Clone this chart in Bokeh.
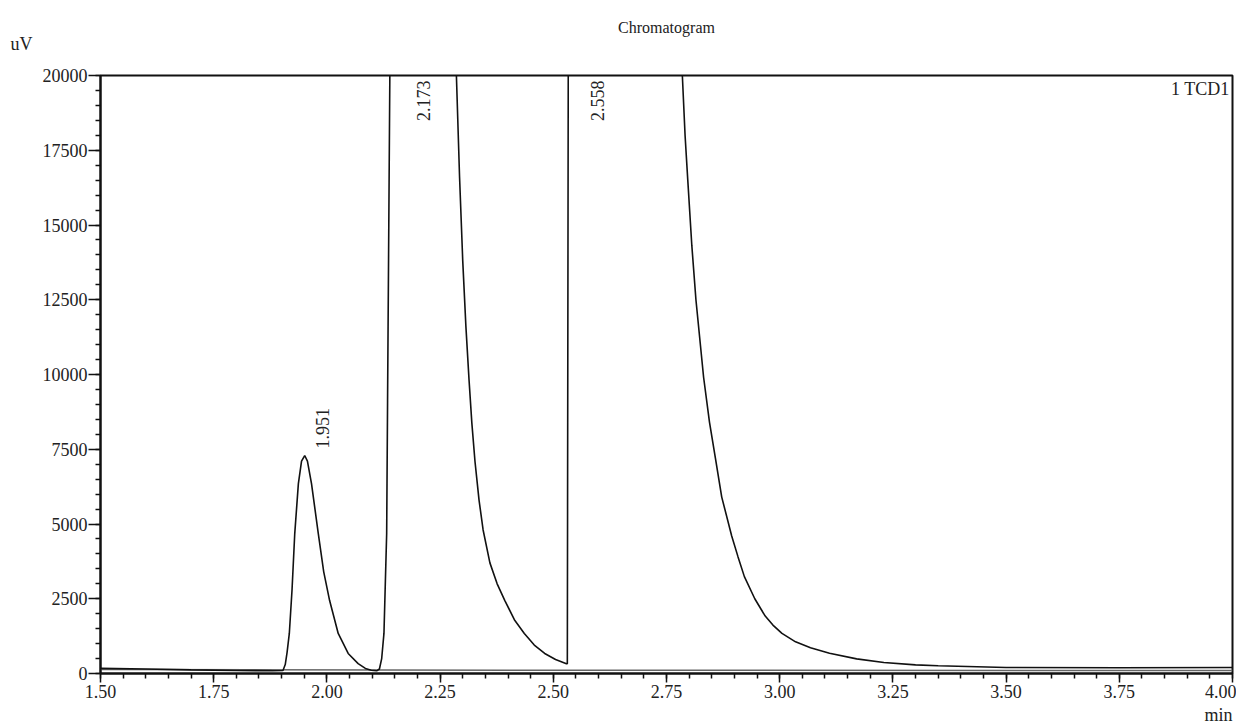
import math
from bokeh.plotting import figure
from bokeh.models import Range1d, FixedTicker, Label, Title, CustomJSTickFormatter
from bokeh.core.properties import value
from bokeh.embed import file_html
from bokeh.resources import INLINE

# ---- data ----
time_min = [1.50, 1.60, 1.70, 1.80, 1.880, 1.903, 1.908, 1.912, 1.917, 1.923, 1.929, 1.937,
            1.944, 1.951, 1.957, 1.966, 1.981, 1.993, 2.006, 2.025, 2.047, 2.069, 2.085,
            2.098, 2.110, 2.116, 2.121, 2.126, 2.132, 2.134, 2.139, 2.173,
            2.286, 2.293, 2.300, 2.307, 2.314, 2.320, 2.327, 2.336, 2.345, 2.360, 2.376,
            2.393, 2.414, 2.436, 2.458, 2.481, 2.505, 2.529, 2.531, 2.533, 2.558,
            2.785, 2.791, 2.797, 2.806, 2.815, 2.832, 2.845, 2.858, 2.872, 2.894, 2.908,
            2.922, 2.945, 2.968, 2.985, 3.005, 3.035, 3.068, 3.110, 3.170, 3.230, 3.300,
            3.350, 3.500, 3.750, 4.000]
signal_uv = [170, 150, 120, 100, 90, 100, 300, 700, 1340, 2800, 4680, 6350,
             7100, 7290, 7100, 6350, 4680, 3400, 2440, 1340, 670, 330, 170,
             110, 90, 150, 500, 1340, 4680, 9130, 20000, 48000,
             20000, 16600, 13800, 11600, 9800, 8400, 7100, 5800, 4800, 3700, 3000,
             2440, 1800, 1340, 950, 670, 470, 330, 330, 20000, 62000,
             20000, 18000, 16500, 14300, 12500, 9900, 8400, 7200, 5900, 4600, 3900,
             3240, 2500, 1920, 1620, 1340, 1060, 860, 680, 490, 370, 290,
             260, 200, 190, 200]

baseline_time = [1.50, 2.53, 4.00]
baseline_uv = [130, 110, 100]

peak_times = [1.951, 2.173, 2.558]
peak_heights = [7290, 48000, 62000]
peak_labels = ["1.951", "2.173", "2.558"]

x_ticks = [1.50, 1.75, 2.00, 2.25, 2.50, 2.75, 3.00, 3.25, 3.50, 3.75, 4.00]
y_ticks = [0, 2500, 5000, 7500, 10000, 12500, 15000, 17500, 20000]
x_minor = [round(1.50 + 0.05 * i, 2) for i in range(51)]
y_minor = [500 * i for i in range(41)]

X_MIN, X_MAX = 1.50, 4.00
Y_MIN, Y_MAX = 0, 20000

FONT = "Liberation Serif"
TXT = "#222222"

p = figure(width=1236, height=727, output_backend="svg", toolbar_location=None,
           x_range=Range1d(X_MIN, X_MAX), y_range=Range1d(Y_MIN, Y_MAX),
           min_border_left=100, min_border_right=4, min_border_top=75, min_border_bottom=54,
           title=None)
p.background_fill_color = "white"
p.border_fill_color = "white"
p.grid.visible = False
p.outline_line_color = "#111111"
p.outline_line_width = 2

for ax in (p.xaxis[0], p.yaxis[0]):
    ax.axis_line_color = "#111111"
    ax.axis_line_width = 2
    ax.major_tick_line_color = "#111111"
    ax.minor_tick_line_color = "#111111"
    ax.major_tick_line_width = 1.5
    ax.minor_tick_line_width = 1.5
    ax.major_tick_in = 0
    ax.minor_tick_in = 0
    ax.major_label_text_font = FONT
    ax.major_label_text_font_size = "18px"
    ax.major_label_text_color = TXT

p.xaxis.ticker = FixedTicker(ticks=x_ticks, minor_ticks=x_minor)
p.yaxis.ticker = FixedTicker(ticks=y_ticks, minor_ticks=y_minor)
p.xaxis.major_tick_out = 9
p.xaxis.minor_tick_out = 5
p.yaxis.major_tick_out = 12
p.yaxis.minor_tick_out = 5
p.xaxis.major_label_standoff = 2
p.yaxis.major_label_standoff = 1
p.xaxis.formatter = CustomJSTickFormatter(code="return tick.toFixed(2);")
p.yaxis.formatter = CustomJSTickFormatter(code="return tick.toFixed(0);")

# traces
p.line(baseline_time, baseline_uv, line_color="#666666", line_width=1.5)
p.line(time_min, signal_uv, line_color="#111111", line_width=1.6)

# peak labels
low_t = [t for t, h in zip(peak_times, peak_heights) if h < Y_MAX]
low_h = [h for h in peak_heights if h < Y_MAX]
low_l = [l for l, h in zip(peak_labels, peak_heights) if h < Y_MAX]
high_t = [t for t, h in zip(peak_times, peak_heights) if h >= Y_MAX]
high_l = [l for l, h in zip(peak_labels, peak_heights) if h >= Y_MAX]
high_h = [Y_MAX for _ in high_t]

p.text(x=low_t, y=low_h, text=low_l, angle=math.pi / 2, x_offset=18, y_offset=-7,
       text_align="left", text_baseline="middle", text_font=value(FONT),
       text_font_size="18px", text_color=TXT)
p.text(x=high_t, y=high_h, text=high_l, angle=math.pi / 2, x_offset=18, y_offset=5,
       text_align="right", text_baseline="middle", text_font=value(FONT),
       text_font_size="18px", text_color=TXT)

# titles around the frame
p.add_layout(Title(text="uV", align="left", offset=-90, text_font=FONT,
                   text_font_size="18px", text_font_style="normal", text_color=TXT,
                   standoff=44), "above")
p.add_layout(Title(text="Chromatogram", align="center", text_font=FONT,
                   text_font_size="16px", text_font_style="normal", text_color=TXT,
                   standoff=-52), "above")
p.add_layout(Title(text="min", align="right", text_font=FONT,
                   text_font_size="18px", text_font_style="normal", text_color=TXT,
                   standoff=5), "below")

p.add_layout(Label(x=1129, y=585, x_units="screen", y_units="screen", text="1 TCD1",
                   text_align="right", text_baseline="middle", text_font=FONT,
                   text_font_size="18px", text_color=TXT))

open("out.html", "w").write(file_html(p, INLINE))
